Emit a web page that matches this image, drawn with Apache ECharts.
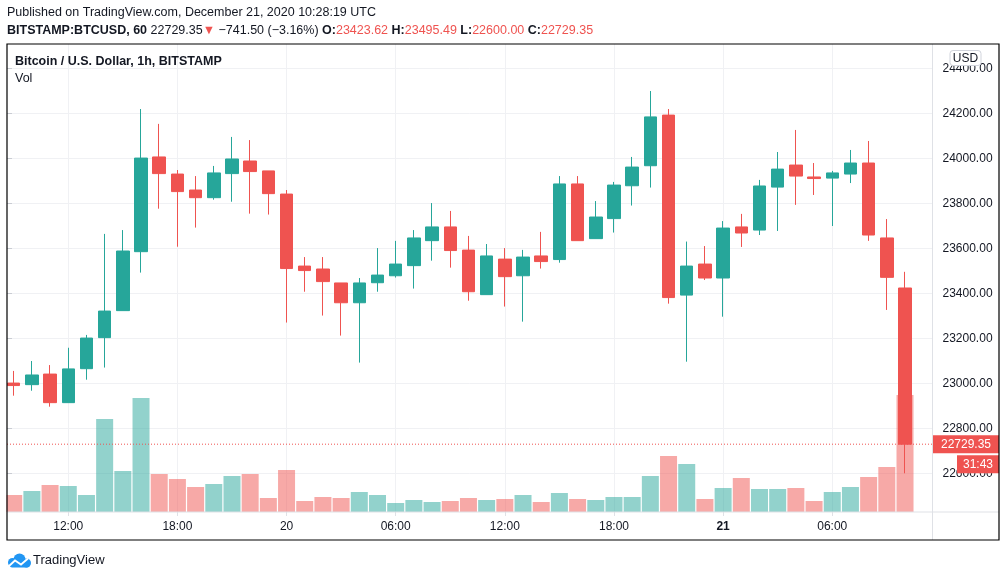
<!DOCTYPE html>
<html><head><meta charset="utf-8">
<script src="https://cdn.jsdelivr.net/npm/echarts@6/dist/echarts.min.js"></script>
<style>html,body{margin:0;padding:0;background:#fff}#c{width:1006px;height:578px}</style>
</head><body><div id="c"></div>
<script>
// ---------- data ----------
const categories = [
 '19 09:00','19 10:00','19 11:00','19 12:00','19 13:00','19 14:00','19 15:00','19 16:00','19 17:00','19 18:00','19 19:00','19 20:00','19 21:00','19 22:00','19 23:00',
 '20 00:00','20 01:00','20 02:00','20 03:00','20 04:00','20 05:00','20 06:00','20 07:00','20 08:00','20 09:00','20 10:00','20 11:00','20 12:00','20 13:00','20 14:00','20 15:00','20 16:00','20 17:00','20 18:00','20 19:00','20 20:00','20 21:00','20 22:00','20 23:00',
 '21 00:00','21 01:00','21 02:00','21 03:00','21 04:00','21 05:00','21 06:00','21 07:00','21 08:00','21 09:00','21 10:00','21 11:00'
];
const opens  = [23001,22994,23041,22914,23065,23203,23323,23585,24006,23930,23859,23825,23932,23988,23944,23841,23521,23508,23446,23358,23447,23478,23523,23634,23695,23592,23394,23552,23478,23566,23550,23886,23643,23732,23878,23967,24192,23392,23530,23468,23695,23681,23872,23970,23917,23912,23930,23979,23646,23423.62];
const closes = [22990,23037,22914,23064,23201,23321,23588,24001,23932,23852,23825,23935,23997,23941,23843,23510,23501,23452,23358,23446,23481,23530,23646,23695,23590,23407,23566,23474,23561,23541,23886,23634,23739,23881,23961,24184,23381,23521,23468,23690,23668,23877,23952,23921,23910,23935,23979,23659,23470.85,22729.35];
const lows   = [22945,22967,22896,22914,23016,23070,23323,23492,23776,23607,23692,23816,23807,23754,23750,23270,23407,23301,23212,23092,23407,23470,23421,23545,23514,23367,23394,23341,23274,23510,23536,23634,23643,23670,23790,23870,23354,23096,23459,23296,23606,23659,23677,23793,23837,23699,23890,23633,23326,22600.00];
const highs  = [23055,23099,23081,23158,23215,23664,23681,24219,24153,23948,23921,23966,24095,24081,23944,23859,23561,23561,23446,23468,23601,23633,23681,23801,23766,23655,23619,23601,23593,23673,23921,23921,23810,23895,24006,24299,24219,23630,23610,23721,23753,23904,24028,24126,23979,23944,24037,24077,23730,23495.49];
const volumes = [170,210,270,260,170,930,410,1140,380,330,250,280,360,380,140,420,110,150,140,200,170,90,120,100,110,140,120,130,170,100,190,130,120,150,150,360,560,480,130,240,340,230,230,240,110,200,250,350,450,1170];
const priceAxis = { min: 22400, max: 24508, step: 200 };
const volumeAxisMax = 4680;
const symbolName = 'BITSTAMP:BTCUSD, 60';
const publishedText = 'Published on TradingView.com, December 21, 2020 10:28:19 UTC';
const paneTitle = 'Bitcoin / U.S. Dollar, 1h, BITSTAMP';
const volTitle = 'Vol';
const currencyBadge = 'USD';
const countdown = '31:43';

// ---------- style ----------
const FONT = '"Liberation Sans", Arial, sans-serif';
const INK = '#131722', UP = '#26a69a', DOWN = '#ef5350';
const GRID = '#f0f1f4', SEP = '#dfe1e6';

const candleData = opens.map((o, i) => [o, closes[i], lows[i], highs[i]]);
const volData = volumes.map((v, i) => ({
  value: v,
  itemStyle: { color: closes[i] >= opens[i] ? 'rgba(38,166,154,0.5)' : 'rgba(239,83,80,0.5)' }
}));
const n = closes.length;
const last = closes[n - 1], prev = closes[n - 2];
const chg = last - prev, pct = chg / prev * 100;
const f2 = v => v.toFixed(2);
const sgn = v => (v < 0 ? '\u2212' : '+') + Math.abs(v).toFixed(2);
const showIdx = (idx) => idx % 6 === 3;

const line2 = `{b|${symbolName}} {n|${f2(last)}}{r|${chg < 0 ? '\u25BC' : '\u25B2'}} {n|${sgn(chg)} (${sgn(pct)}%)} ` +
  `{b|O:}{r|${f2(opens[n-1])}} {b|H:}{r|${f2(highs[n-1])}} {b|L:}{r|${f2(lows[n-1])}} {b|C:}{r|${f2(last)}}`;

const txt = (size, weight, color) => ({ fontSize: size, fontWeight: weight, color: color || INK, fontFamily: FONT, lineHeight: 15 });

const chart = echarts.init(document.getElementById('c'));
const option = {
  backgroundColor: '#ffffff',
  animation: false,
  title: [
    { text: publishedText, left: 7, top: 5.5, padding: 0, textStyle: txt(12.5, 'normal') },
    { text: line2, left: 7, top: 23, padding: 0, textStyle: { ...txt(12.5, 'normal'), rich: { b: txt(12.5, 'bold'), n: txt(12.5, 'normal'), r: txt(12.5, 'normal', DOWN) } } },
    { text: paneTitle, left: 15, top: 54, padding: 0, textStyle: txt(12.5, 'bold') },
    { text: volTitle, left: 15, top: 71.5, padding: 0, textStyle: txt(12.5, 'normal') }
  ],
  grid: [
    { left: 7, right: 73.5, top: 44, bottom: 59.7, containLabel: false, outerBoundsMode: 'none' },
    { left: 13.7, right: 82.8, top: 44, bottom: 59.7, containLabel: false, outerBoundsMode: 'none' },
    { left: 13.7, right: 82.8, top: 44, bottom: 66, containLabel: false, outerBoundsMode: 'none' }
  ],
  xAxis: [
    { gridIndex: 0, type: 'value', min: 0, max: 1, show: false },
    { gridIndex: 1, type: 'category', data: categories, boundaryGap: false, show: false },
    { gridIndex: 2, type: 'category', data: categories, boundaryGap: false,
      axisLine: { show: false },
      axisTick: { show: true, interval: showIdx, length: 4, lineStyle: { color: SEP } },
      splitLine: { show: true, interval: showIdx, lineStyle: { color: GRID, width: 1 } },
      axisLabel: { interval: showIdx, margin: 9, fontSize: 12, color: INK, fontFamily: FONT,
        formatter: v => { const p = v.split(' '); return p[1] === '00:00' ? (p[0] === '21' ? '{b|' + p[0] + '}' : p[0]) : p[1]; },
        rich: { b: { fontWeight: 'bold', fontSize: 12, color: INK, fontFamily: FONT } } }
    }
  ],
  yAxis: [
    { gridIndex: 0, type: 'value', position: 'right', min: priceAxis.min, max: priceAxis.max, interval: priceAxis.step,
      axisLine: { show: false },
      axisTick: { show: true, length: 5, lineStyle: { color: '#c9ccd3' } },
      splitLine: { show: true, showMinLine: false, showMaxLine: false, lineStyle: { color: GRID, width: 1 } },
      axisLabel: { showMinLabel: false, showMaxLabel: false, margin: 10, fontSize: 12, color: INK, fontFamily: FONT, formatter: v => v.toFixed(2) }
    },
    { gridIndex: 1, type: 'value', min: priceAxis.min, max: priceAxis.max, show: false },
    { gridIndex: 2, type: 'value', min: 0, max: volumeAxisMax, show: false }
  ],
  series: [
    { type: 'bar', name: 'Vol', xAxisIndex: 2, yAxisIndex: 2, data: volData, barWidth: 17, clip: false, z: 1, silent: true },
    { type: 'candlestick', name: 'BTCUSD', xAxisIndex: 1, yAxisIndex: 1, data: candleData, barWidth: 13, clip: false, z: 2,
      itemStyle: { color: UP, color0: DOWN, borderColor: UP, borderColor0: DOWN, borderWidth: 1 } },
    { type: 'line', name: 'last', xAxisIndex: 0, yAxisIndex: 0, data: [[0, last], [1, last]], symbol: 'none', z: 3, silent: true,
      lineStyle: { color: DOWN, width: 1, type: [1, 2] } }
  ]
};
chart.setOption(option);

const yLast = chart.convertToPixel({ yAxisIndex: 0 }, last);
const graphics = [
  { type: 'rect', z: 99, shape: { x: 0, y: 44, width: 6.5, height: 468 }, style: { fill: '#fff' } },
  { type: 'line', z: 50, shape: { x1: 7, y1: 512, x2: 999, y2: 512 }, style: { stroke: SEP, lineWidth: 1 } },
  { type: 'line', z: 50, shape: { x1: 932.5, y1: 44, x2: 932.5, y2: 540 }, style: { stroke: SEP, lineWidth: 1 } },
  { type: 'rect', z: 100, shape: { x: 7, y: 44, width: 992, height: 496 }, style: { fill: 'none', stroke: '#000', lineWidth: 1.2 } },
  // USD badge
  { type: 'rect', z: 60, shape: { x: 950, y: 50.5, width: 31, height: 15, r: 3 }, style: { fill: '#fff', stroke: '#d1d4dc', lineWidth: 1 } },
  { type: 'text', z: 61, style: { x: 965.5, y: 58.5, text: currencyBadge, fill: INK, font: '12px ' + FONT, align: 'center', verticalAlign: 'middle' } },
  // last price label
  { type: 'rect', z: 60, shape: { x: 933, y: yLast - 9, width: 66, height: 18 }, style: { fill: DOWN } },
  { type: 'text', z: 61, style: { x: 966, y: yLast + 0.5, text: f2(last), fill: '#fff', font: '12px ' + FONT, align: 'center', verticalAlign: 'middle' } },
  { type: 'rect', z: 60, shape: { x: 957, y: yLast + 11, width: 42, height: 18 }, style: { fill: DOWN } },
  { type: 'text', z: 61, style: { x: 978, y: yLast + 20.5, text: countdown, fill: '#fff', font: '12px ' + FONT, align: 'center', verticalAlign: 'middle' } },
  // TradingView footer logo
  { type: 'group', z: 60, children: [
    { type: 'circle', shape: { cx: 12.5, cy: 562.5, r: 4.5 }, style: { fill: '#2196F3' } },
    { type: 'circle', shape: { cx: 19.5, cy: 559.5, r: 6 }, style: { fill: '#2196F3' } },
    { type: 'circle', shape: { cx: 26.5, cy: 563, r: 4.5 }, style: { fill: '#2196F3' } },
    { type: 'rect', shape: { x: 10, y: 562, width: 19, height: 5.5, r: 2 }, style: { fill: '#2196F3' } },
    { type: 'polyline', shape: { points: [[9, 566], [15, 560.5], [21, 564.5], [28, 558.5]] }, style: { stroke: '#fff', lineWidth: 1.8, fill: 'none' } }
  ] },
  { type: 'text', z: 60, style: { x: 33, y: 560, text: 'TradingView', fill: INK, font: '13px ' + FONT, verticalAlign: 'middle' } }
];
chart.setOption({ graphic: graphics });
</script></body></html>
